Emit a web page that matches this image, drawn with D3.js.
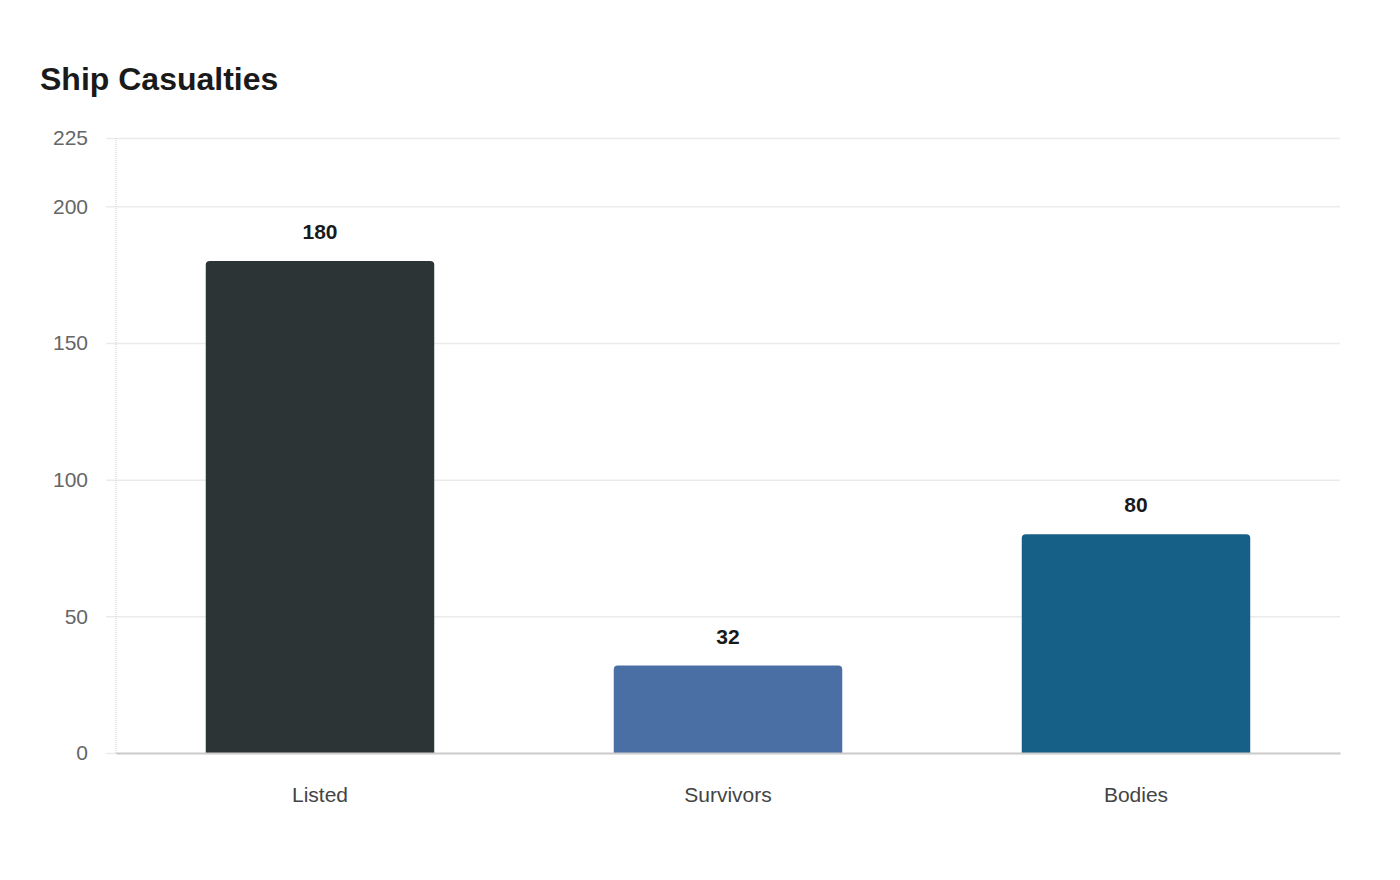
<!DOCTYPE html>
<html>
<head>
<meta charset="utf-8">
<script src="https://cdnjs.cloudflare.com/ajax/libs/d3/7.8.5/d3.min.js"></script>
<style>
    body { margin: 0; background: #fff; }
    svg { display: block; font-family: "Liberation Sans", Arial, sans-serif; }
</style>
</head>
<body>
<svg id="chart" width="1400" height="880"></svg>
<script>
    const categories = ['Listed', 'Survivors', 'Bodies'];
    const values = [180, 32, 80];
    const colors = ['#2d3436', '#4a6fa5', '#166088'];
    const yTicks = [0, 50, 100, 150, 200, 225];

    const width = 1400, height = 880;
    const margin = { top: 138, right: 60, bottom: 127, left: 116 };
    const innerW = width - margin.left - margin.right;
    const innerH = height - margin.top - margin.bottom;

    const svg = d3.select('#chart');

    svg.append('text')
        .attr('x', 40)
        .attr('y', 90)
        .attr('font-size', 32)
        .attr('font-weight', 'bold')
        .attr('fill', '#1a1a1a')
        .text('Ship Casualties');

    const g = svg.append('g').attr('transform', `translate(${margin.left},${margin.top})`);

    const x = d3.scaleBand().domain(categories).range([0, innerW]).paddingInner(0.44).paddingOuter(0.22);
    const y = d3.scaleLinear().domain([0, 225]).range([innerH, 0]);

    // grid + y labels
    const yAxis = g.append('g')
        .call(d3.axisLeft(y).tickValues(yTicks).tickSize(-innerW).tickPadding(28).tickFormat(d3.format('d')));
    yAxis.select('.domain').remove();
    yAxis.selectAll('.tick line').attr('stroke', '#ebebeb').attr('stroke-width', 1.5).attr('x1', -10);
    yAxis.selectAll('.tick text')
        .attr('font-size', 21)
        .attr('fill', '#666')
        .attr('font-family', '"Liberation Sans", Arial, sans-serif');

    // left dotted line
    g.append('line')
        .attr('x1', 0).attr('x2', 0)
        .attr('y1', 0).attr('y2', innerH)
        .attr('stroke', '#d0d0d0')
        .attr('stroke-dasharray', '1,1');

    const r = 4;
    const barPath = (d, i) => {
        const x0 = x(categories[i]), w = x.bandwidth();
        const y0 = y(d), y1 = y(0);
        return `M${x0},${y1}V${y0 + r}Q${x0},${y0} ${x0 + r},${y0}H${x0 + w - r}Q${x0 + w},${y0} ${x0 + w},${y0 + r}V${y1}Z`;
    };

    g.selectAll('path.bar')
        .data(values)
        .join('path')
        .attr('class', 'bar')
        .attr('d', barPath)
        .attr('fill', (d, i) => colors[i]);

    g.selectAll('text.value')
        .data(values)
        .join('text')
        .attr('class', 'value')
        .attr('x', (d, i) => x(categories[i]) + x.bandwidth() / 2)
        .attr('y', d => y(d) - 22)
        .attr('text-anchor', 'middle')
        .attr('font-size', 21)
        .attr('font-weight', 'bold')
        .attr('fill', '#1a1a1a')
        .text(d => d);

    // baseline + category labels
    const xAxis = g.append('g')
        .attr('transform', `translate(0,${innerH})`)
        .call(d3.axisBottom(x).tickSize(0).tickPadding(34));
    xAxis.select('.domain').attr('stroke', '#cccccc').attr('stroke-width', 2);
    xAxis.selectAll('.tick text')
        .attr('font-size', 21)
        .attr('fill', '#444')
        .attr('font-family', '"Liberation Sans", Arial, sans-serif');
</script>
</body>
</html>
